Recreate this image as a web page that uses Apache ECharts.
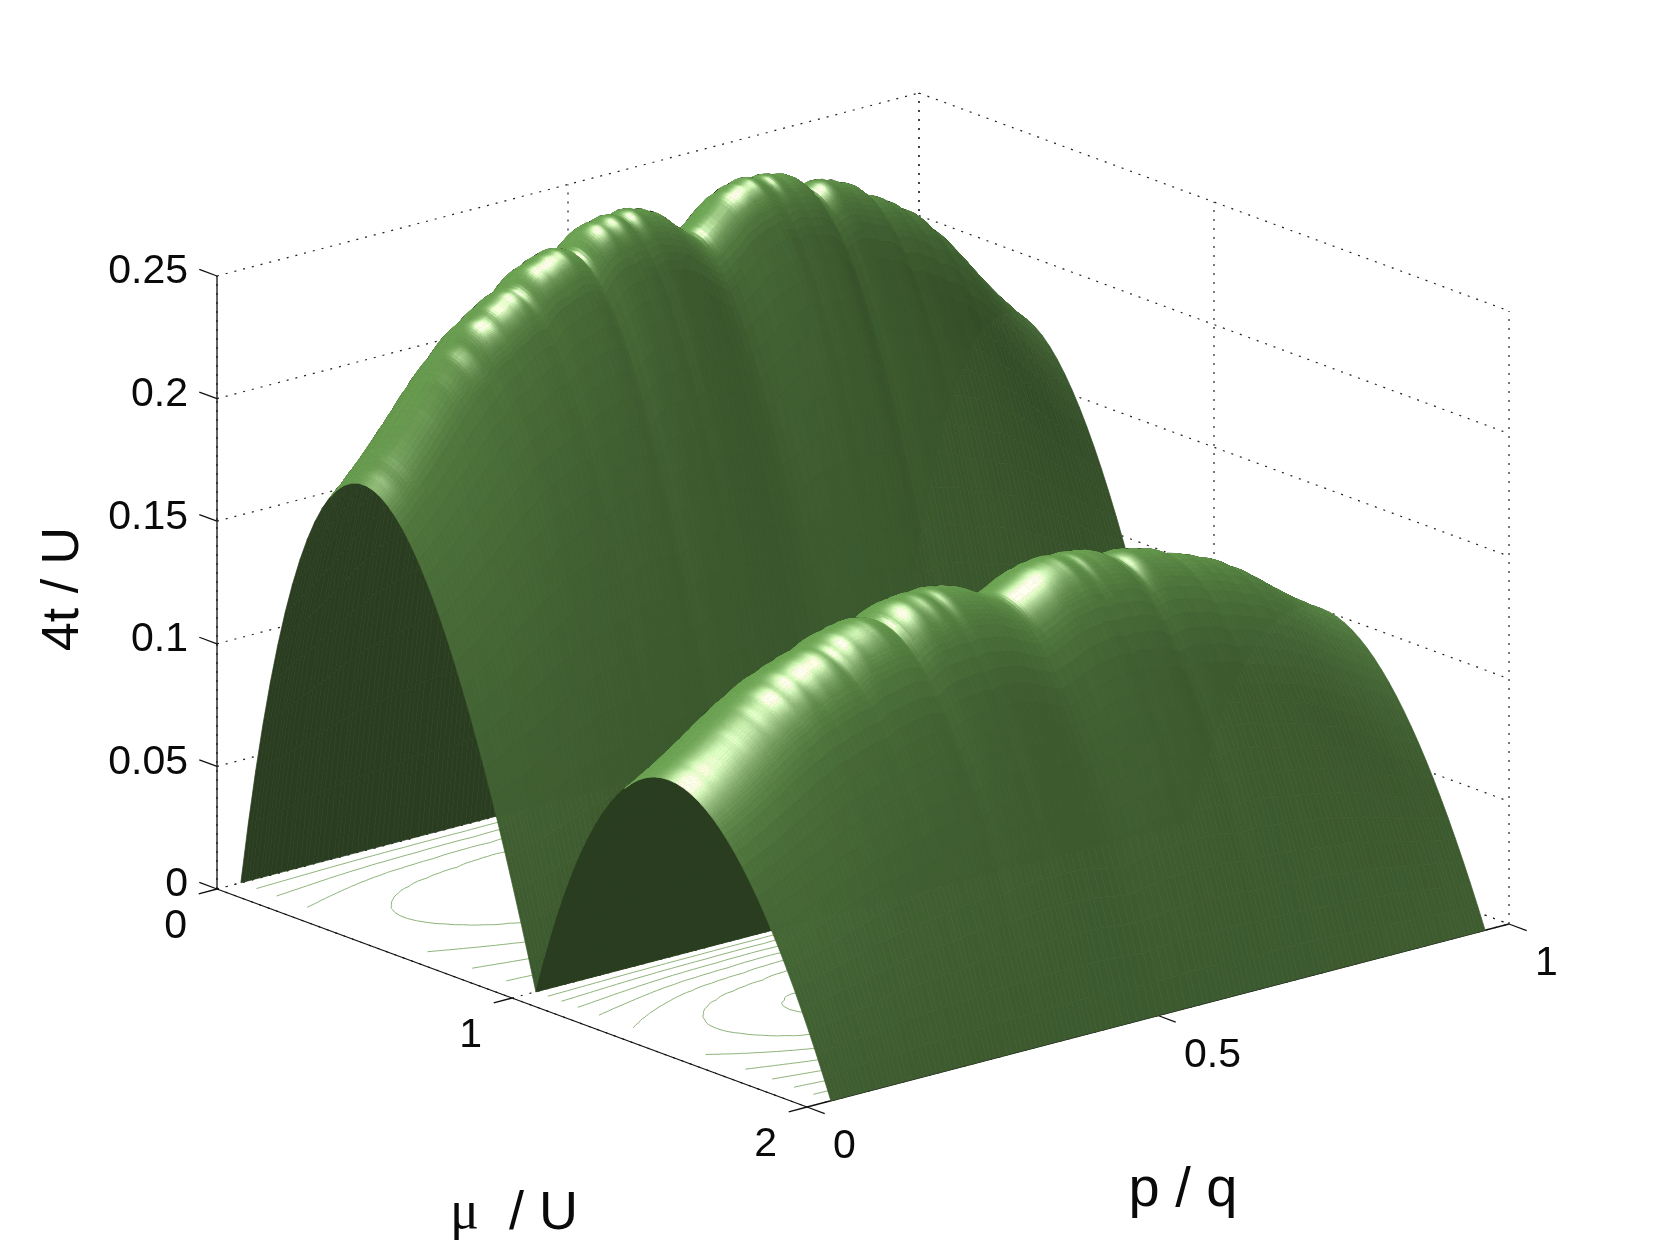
<!DOCTYPE html>
<html><head><meta charset="utf-8">
<style>html,body{margin:0;padding:0;background:#fff}#c{width:1667px;height:1250px}</style>
<script src="https://cdn.jsdelivr.net/npm/echarts@6/dist/echarts.min.js"></script>
</head><body><div id="c"></div>
<script>
// ---------- data ----------
const pGrid = [.034,.04,.045,.05,.0556,.0625,.0667,.0714,.0769,.0833,.0909,.1,.105,.1111,.118,.125,.13,.137,.1429,.15,.158,.1667,.172,.178,.185,.192,.2,.206,.213,.2222,.228,.235,.242,.25,.256,.262,.268,.275,.2857,.292,.3,.306,.313,.32,.327,.3333,.34,.347,.354,.361,.368,.375,.381,.388,.395,.4,.406,.413,.42,.4286,.435,.4444,.45,.46,.47,.48,.49,.5,
.51,.52,.53,.54,.55,.5556,.565,.5714,.58,.587,.594,.6,.605,.612,.619,.625,.632,.639,.646,.653,.66,.6667,.673,.68,.687,.694,.7,.708,.7143,.725,.732,.738,.744,.75,.758,.765,.772,.7778,.787,.794,.8,.808,.815,.822,.828,.8333,.842,.85,.8571,.863,.87,.875,.882,.8889,.895,.9,.9091,.9167,.9231,.9286,.9333,.9375,.9444,.95,.955,.96,.966];
const ridgeScale = [1.054,1.064,1.073,1.08,1.092,1.106,1.112,1.123,1.133,1.147,1.163,1.183,1.195,1.206,1.224,1.238,1.252,1.268,1.278,1.297,1.312,1.322,1.336,1.35,1.362,1.37,1.374,1.386,1.397,1.404,1.414,1.42,1.424,1.424,1.44,1.452,1.462,1.468,1.473,1.482,1.484,1.49,1.491,1.488,1.482,1.472,1.492,1.508,1.519,1.526,1.53,1.528,1.535,1.538,1.536,1.529,1.537,1.541,1.54,1.532,1.533,1.522,1.52,1.506,1.488,1.473,1.458,1.446,
1.458,1.473,1.488,1.506,1.52,1.522,1.533,1.532,1.54,1.541,1.537,1.529,1.536,1.538,1.535,1.528,1.53,1.526,1.519,1.508,1.492,1.472,1.482,1.488,1.491,1.49,1.484,1.482,1.473,1.468,1.462,1.452,1.44,1.424,1.424,1.42,1.414,1.404,1.397,1.386,1.374,1.37,1.362,1.35,1.336,1.322,1.312,1.297,1.278,1.268,1.252,1.238,1.224,1.206,1.195,1.183,1.163,1.147,1.133,1.123,1.112,1.106,1.092,1.08,1.073,1.064,1.054];
const muLobe1 = [0,.025,.05,.075,.1,.125,.15,.175,.2,.225,.25,.275,.3,.325,.35,.375,.4,.425,.45,.475,.5,.525,.55,.575,.6,.625,.65,.675,.7,.725,.75,.775,.8,.825,.85,.875,.9,.925,.95,.975,1];
const heightLobe1 = [0,.02378,.04524,.06453,.08182,.09722,.11087,.12287,.13333,.14235,.15,.15637,.16154,.16557,.16852,.17045,.17143,.17149,.17069,.16907,.16667,.16352,.15968,.15516,.15,.14423,.13788,.13097,.12353,.11558,.10714,.09824,.08889,.07911,.06892,.05833,.04737,.03604,.02436,.01234,0];
const muLobe2 = [1,1.025,1.05,1.075,1.1,1.125,1.15,1.175,1.2,1.225,1.25,1.275,1.3,1.325,1.35,1.375,1.4,1.425,1.45,1.475,1.5,1.525,1.55,1.575,1.6,1.625,1.65,1.675,1.7,1.725,1.75,1.775,1.8,1.825,1.85,1.875,1.9,1.925,1.95,1.975,2];
const heightLobe2 = [0,.01204,.02317,.03343,.04286,.05147,.0593,.06638,.07273,.07837,.08333,.08764,.0913,.09435,.09681,.09868,.1,.10077,.10102,.10076,.1,.09876,.09706,.0949,.09231,.08929,.08585,.08201,.07778,.07317,.06818,.06284,.05714,.05111,.04474,.03804,.03103,.02372,.0161,.00819,0];
const contourLevels1 = [.05,.1,.15,.2];
const contourLevels2 = [.02,.04,.06,.08,.1,.12,.14];
const zTicks = [0,.05,.1,.15,.2,.25];
const zTickLabels = ['0','0.05','0.1','0.15','0.2','0.25'];
const muTicks = [0,1,2];
const muTickLabels = ['0','1','2'];
const pTicks = [0,.5,1];
const pTickLabels = ['0','0.5','1'];

// ---------- oblique projection of the MATLAB box onto the page ----------
const ORG=[217,889], MU=[295,109], P=[702,-183], ZS=2452;
const project=(p,mu,z)=>[ORG[0]+MU[0]*mu+P[0]*p, ORG[1]+MU[1]*mu+P[1]*p-ZS*z];
const WX=916, WY=458, WZ=2580;
const norm=v=>{const l=Math.hypot(v[0],v[1],v[2]);return [v[0]/l,v[1]/l,v[2]/l];};
const dot=(a,b)=>a[0]*b[0]+a[1]*b[1]+a[2]*b[2];
const VIEW=norm([-.611,.728,.312]);
const HALF=norm([-.38,.22,.9]);
const LIGHT1=norm([.26,-.55,.79]), LIGHT2=norm([-.8,.2,.55]);
const AMB=[46,69,36], DIF1=[48,74,37], DIF2=[38,55,28], SPEC=[170,150,165], SHINE=32, UNDER=[42,61,32];
const WIDE=.07, STRIPE=.35;

function shade(Nf,Nw){
  if(dot(Nf,VIEW)<0) return UNDER;
  const d1=Math.max(0,dot(Nw,LIGHT1)), d2=Math.max(0,dot(Nw,LIGHT2)), s=Math.pow(Math.max(0,dot(Nf,HALF)),SHINE);
  return [0,1,2].map(k=>Math.min(255,AMB[k]+DIF1[k]*d1+DIF2[k]*d2+SPEC[k]*s));
}
const rgb=c=>'rgb('+c.map(Math.round).join(',')+')';
function buildLobe(muGrid,heights){
  const cells=[], np=pGrid.length, nm=muGrid.length;
  const Z=(a,b)=>heights[b]*ridgeScale[a];
  const slopes=(i,j)=>{
    const a=Math.max(0,i-1),b=Math.min(np-1,i+1),c=Math.max(0,j-1),d=Math.min(nm-1,j+1);
    let a2=i,b2=i;
    while(a2>0&&pGrid[i]-pGrid[a2]<WIDE)a2--;
    while(b2<np-1&&pGrid[b2]-pGrid[i]<WIDE)b2++;
    const dXf=(Z(b,j)-Z(a,j))*WZ/((pGrid[b]-pGrid[a])*WX);
    const dXw=(Z(b2,j)-Z(a2,j))*WZ/((pGrid[b2]-pGrid[a2])*WX);
    const dY=(Z(i,d)-Z(i,c))*WZ/((muGrid[d]-muGrid[c])*WY);
    return {f:norm([-dXf,-dY,1]),w:norm([-(STRIPE*dXf+(1-STRIPE)*dXw),-dY,1])};
  };
  const lerp=(a,b,t)=>a+(b-a)*t;
  const mix=(n00,n10,n01,n11,s,t)=>norm([0,1,2].map(k=>lerp(lerp(n00[k],n10[k],s),lerp(n01[k],n11[k],s),t)));
  for(let i=np-2;i>=0;i--){
    for(let j=0;j<nm-1;j++){
      const n00=slopes(i,j),n10=slopes(i+1,j),n11=slopes(i+1,j+1),n01=slopes(i,j+1);
      const c00=shade(n00.f,n00.w),c10=shade(n10.f,n10.w),c11=shade(n11.f,n11.w),c01=shade(n01.f,n01.w);
      const gap=(a,b)=>Math.max(Math.abs(a[0]-b[0]),Math.abs(a[1]-b[1]),Math.abs(a[2]-b[2]));
      const subM=Math.min(6,Math.max(1,Math.ceil(Math.max(gap(c00,c01),gap(c10,c11))/7)));
      const subP=Math.min(3,Math.max(1,Math.ceil(Math.max(gap(c00,c10),gap(c01,c11))/12)));
      const pos=(s,t)=>{
        const pv=lerp(pGrid[i],pGrid[i+1],s), mv=lerp(muGrid[j],muGrid[j+1],t);
        const z=lerp(lerp(Z(i,j),Z(i+1,j),s),lerp(Z(i,j+1),Z(i+1,j+1),s),t);
        return project(pv,mv,z);
      };
      for(let a=subP-1;a>=0;a--)for(let b=0;b<subM;b++){
        const s=(a+.5)/subP,t=(b+.5)/subM;
        const Nf=mix(n00.f,n10.f,n01.f,n11.f,s,t), Nw=mix(n00.w,n10.w,n01.w,n11.w,s,t);
        cells.push({pts:[pos(a/subP,b/subM),pos((a+1)/subP,b/subM),pos((a+1)/subP,(b+1)/subM),pos(a/subP,(b+1)/subM)],color:rgb(shade(Nf,Nw))});
      }
    }
  }
  return cells;
}
function buildContours(muGrid,heights,levels){
  const segs=[];
  levels.forEach(l=>{
    for(let i=0;i<pGrid.length-1;i++)for(let j=0;j<muGrid.length-1;j++){
      const c=[[i,j],[i+1,j],[i+1,j+1],[i,j+1]];
      const v=c.map(q=>heights[q[1]]*ridgeScale[q[0]]);
      const hits=[];
      for(let k=0;k<4;k++){
        const a=k,b=(k+1)%4;
        if((v[a]-l)*(v[b]-l)<0){
          const t=(l-v[a])/(v[b]-v[a]);
          hits.push(project(pGrid[c[a][0]]+t*(pGrid[c[b][0]]-pGrid[c[a][0]]),muGrid[c[a][1]]+t*(muGrid[c[b][1]]-muGrid[c[a][1]]),0));
        }
      }
      for(let k=0;k+1<hits.length;k+=2)segs.push([hits[k],hits[k+1]]);
    }
  });
  return segs;
}
const surfaceCells=buildLobe(muLobe1,heightLobe1).concat(buildLobe(muLobe2,heightLobe2));
const contourSegs=buildContours(muLobe1,heightLobe1,contourLevels1).concat(buildContours(muLobe2,heightLobe2,contourLevels2));

// box lines
const DOT={stroke:'#222',lineWidth:1.2,lineDash:[2,7]}, SOLID={stroke:'#111',lineWidth:1.3};
const boxLines=[];
const addL=(a,b,s)=>boxLines.push({a:project(...a),b:project(...b),s});
zTicks.forEach(z=>{addL([0,0,z],[1,0,z],DOT);addL([1,0,z],[1,2,z],DOT);});
pTicks.forEach(p=>{addL([p,0,0],[p,0,.25],DOT);addL([p,0,0],[p,2,0],DOT);});
muTicks.forEach(m=>{addL([1,m,0],[1,m,.25],DOT);addL([0,m,0],[1,m,0],DOT);});
addL([0,0,0],[0,2,0],SOLID);addL([0,2,0],[1,2,0],SOLID);addL([0,0,0],[0,0,.25],SOLID);
zTicks.forEach(z=>addL([0,0,z],[0,-.06,z],SOLID));
muTicks.forEach(m=>addL([0,m,0],[-.026,m,0],SOLID));
pTicks.forEach(p=>addL([p,2,0],[p,2.06,0],SOLID));

// texts
const texts=[];
zTicks.forEach((z,i)=>{const q=project(0,0,z);texts.push({x:q[0]-29,y:q[1]-4,t:zTickLabels[i],a:'right',fs:41});});
muTicks.forEach((m,i)=>{const q=project(0,m,0);texts.push({x:q[0]-30,y:q[1]+38,t:muTickLabels[i],a:'right',fs:41});});
pTicks.forEach((p,i)=>{const q=project(p,2,0);texts.push({x:q[0]+26,y:q[1]+40,t:pTickLabels[i],a:'left',fs:41});});
const titles=[{x:64,y:589,t:'4t / U',a:'center',fs:52,r:Math.PI/2},{x:1183,y:1191,t:'p / q',a:'center',fs:56},{x:514,y:1214,t:'{m|μ}  / U',a:'center',fs:54}];
const allTexts=texts.concat(titles);

const chart=echarts.init(document.getElementById('c'),null,{renderer:'canvas'});
chart.setOption({
  animation:false,backgroundColor:'#fff',
  grid:{left:0,right:0,top:0,bottom:0},
  xAxis:{type:'value',min:0,max:1667,show:false},
  yAxis:{type:'value',min:0,max:1250,inverse:true,show:false},
  series:[
    {type:'custom',silent:true,clip:false,progressive:0,data:boxLines.map((_,i)=>[i]),encode:{x:[],y:[]},
     renderItem:(params,api)=>{const l=boxLines[params.dataIndex],a=api.coord(l.a),b=api.coord(l.b);
       return {type:'line',shape:{x1:a[0],y1:a[1],x2:b[0],y2:b[1]},style:Object.assign({fill:null},l.s)};}},
    {type:'custom',silent:true,clip:false,progressive:0,data:contourSegs.map((_,i)=>[i]),encode:{x:[],y:[]},
     renderItem:(params,api)=>{const s=contourSegs[params.dataIndex],a=api.coord(s[0]),b=api.coord(s[1]);
       return {type:'line',shape:{x1:a[0],y1:a[1],x2:b[0],y2:b[1]},style:{stroke:'#8fb37a',lineWidth:1,fill:null}};}},
    {type:'custom',silent:true,clip:false,progressive:0,data:surfaceCells.map((_,i)=>[i]),encode:{x:[],y:[]},
     renderItem:(params,api)=>{const c=surfaceCells[params.dataIndex];
       return {type:'polygon',shape:{points:c.pts.map(q=>api.coord(q))},style:{fill:c.color,stroke:c.color,lineWidth:.7}};}},
    {type:'custom',silent:true,clip:false,progressive:0,data:allTexts.map((_,i)=>[i]),encode:{x:[],y:[]},
     renderItem:(params,api)=>{const t=allTexts[params.dataIndex],q=api.coord([t.x,t.y]);
       return {type:'text',x:q[0],y:q[1],rotation:t.r||0,style:{text:t.t,fill:'#0a0a0a',fontSize:t.fs,fontFamily:'Liberation Sans',align:t.a,verticalAlign:'middle',
         rich:{m:{fontFamily:'Liberation Serif',fontSize:t.fs,fill:'#0a0a0a'}}}};}}
  ]
});
</script></body></html>
